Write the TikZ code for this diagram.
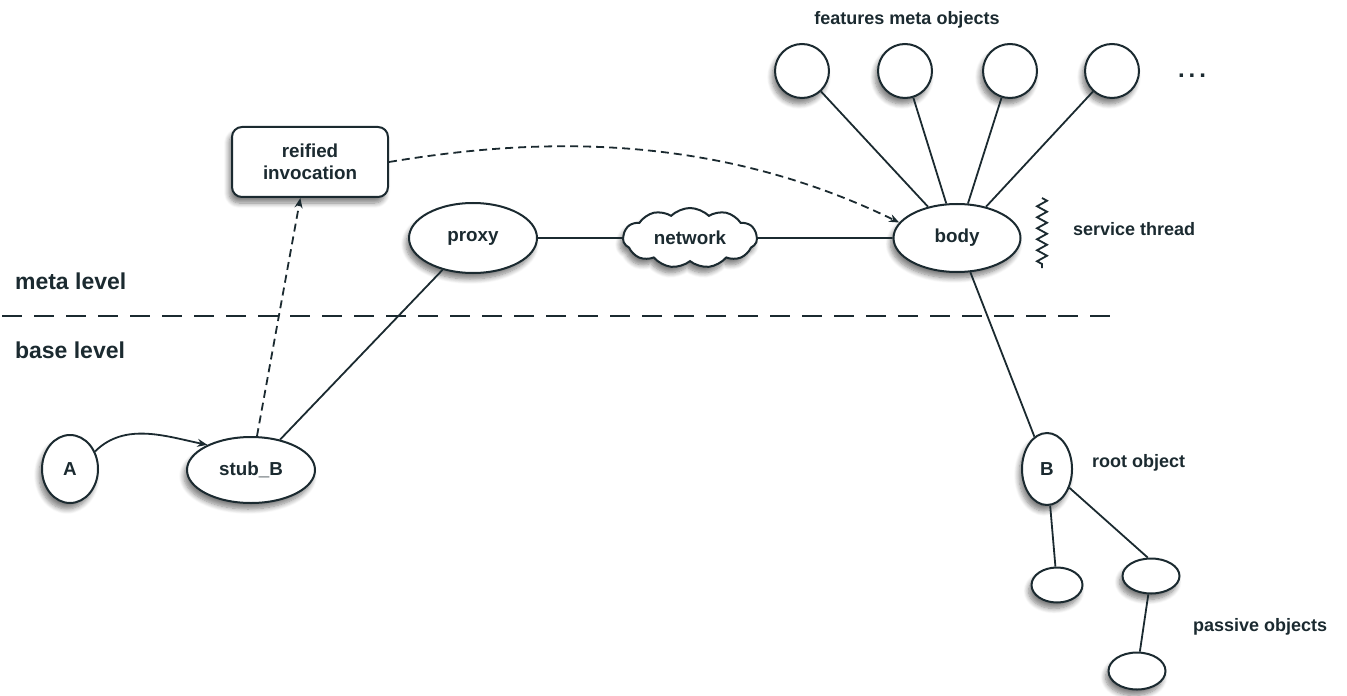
\documentclass[tikz,border=0pt]{standalone}
\usepackage{fontspec}
\setmainfont{Liberation Sans}
\usetikzlibrary{shapes.geometric,shapes.symbols,shadows.blur,decorations.pathmorphing,arrows.meta}
\definecolor{ink}{HTML}{1B2A30}
\begin{document}
\begin{tikzpicture}[x=0.5pt,y=-0.5pt,
  every node/.style={font=\bfseries\fontsize{9}{10.5}\selectfont, text=ink},
  inner/.style={font=\bfseries\fontsize{9.4}{11}\selectfont},
  obj/.style={draw=ink, line width=1pt, fill=white, inner,
    blur shadow={shadow xshift=-1.5pt, shadow yshift=-3pt, shadow opacity=50, shadow blur steps=8, shadow blur radius=2.5pt}},
  oval/.style={obj, ellipse, inner sep=0pt},
  conn/.style={draw=ink, line width=0.9pt},
  tip/.style={-{Stealth[length=5pt,width=4pt]}},
  levelfont/.style={font=\bfseries\fontsize{11.5}{13}\selectfont}
]
\useasboundingbox (0,0) rectangle (1347,695);

% meta / base separator
\node[anchor=west, levelfont] (meta) at (8,281) {meta level};
\node[anchor=west, levelfont] (base) at (8,350) {base level};
\coordinate (sepL) at (2,316);
\coordinate (sepR) at (1115,316);
\draw[ink, line width=1.1pt, dash pattern=on 10pt off 6pt] (sepL) -- (sepR);

% meta level objects
\node[obj, rounded corners=5pt, minimum width=78pt, minimum height=35pt, align=center, inner sep=1pt] (reified) at (310,162) {reified\\invocation};
\node[oval, minimum width=64pt, minimum height=35pt] (proxy) at (473,238) {proxy};
\node[obj, cloud, cloud puffs=11, cloud puff arc=90, aspect=2.4, inner sep=0pt, minimum width=67pt, minimum height=30pt] (network) at (690,238) {network};
\node[oval, minimum width=63.5pt, minimum height=34pt] (body) at (957,238) {body};

% feature meta objects
\node (featlbl) at (907,20) {features meta objects};
\node[oval, minimum size=27pt] (f1) at (802,71) {};
\node[oval, minimum size=27pt] (f2) at (905,71) {};
\node[oval, minimum size=27pt] (f3) at (1010,71) {};
\node[oval, minimum size=27pt] (f4) at (1112,71) {};
\node[font=\bfseries\fontsize{12}{12}\selectfont] (dots) at (1192,76) {.\kern2pt.\kern2pt.};

% service thread
\coordinate (zt) at (1042,198);
\coordinate (zb) at (1042,268);
\draw[ink, line width=0.9pt, decorate, decoration={zigzag, segment length=5.5pt, amplitude=2.5pt}] (zt) -- (zb);
\node[anchor=west] (stlbl) at (1066,229) {service thread};

% base level objects
\node[oval, minimum width=28pt, minimum height=34pt] (A) at (70,469) {A};
\node[oval, minimum width=64pt, minimum height=33pt] (stub) at (251,470) {stub\_B};
\node[oval, minimum width=25pt, minimum height=36pt] (B) at (1047,469) {B};
\node[anchor=west] (rootlbl) at (1085,463) {root object};
\node[oval, minimum width=25.5pt, minimum height=17.5pt] (p1) at (1057,585) {};
\node[oval, minimum width=28.5pt, minimum height=17.5pt] (p2) at (1151,576) {};
\node[oval, minimum width=28.5pt, minimum height=18.5pt] (p3) at (1137,671) {};
\node[anchor=west] (passlbl) at (1186,627) {passive objects};

% connectors
\draw[conn, tip] (A.35) .. controls +(30,-30) and +(-40,-8) .. (stub.150);
\draw[conn, dash pattern=on 4pt off 2.5pt, tip] (stub.80) -- (reified.-105);
\draw[conn, dash pattern=on 4pt off 2.5pt, tip] (reified.east) .. controls +(132,-22) and +(-195,-95) .. (body.165);
\draw[conn] (stub) -- (proxy);
\draw[conn] (proxy) -- (network);
\draw[conn] (network) -- (body);
\foreach \f in {f1,f2,f3,f4} \draw[conn] (\f) -- (body);
\draw[conn] (body) -- (B);
\draw[conn] (B) -- (p1);
\draw[conn] (B.-40) -- (p2.100);
\draw[conn] (p2) -- (p3);
\end{tikzpicture}
\end{document}
